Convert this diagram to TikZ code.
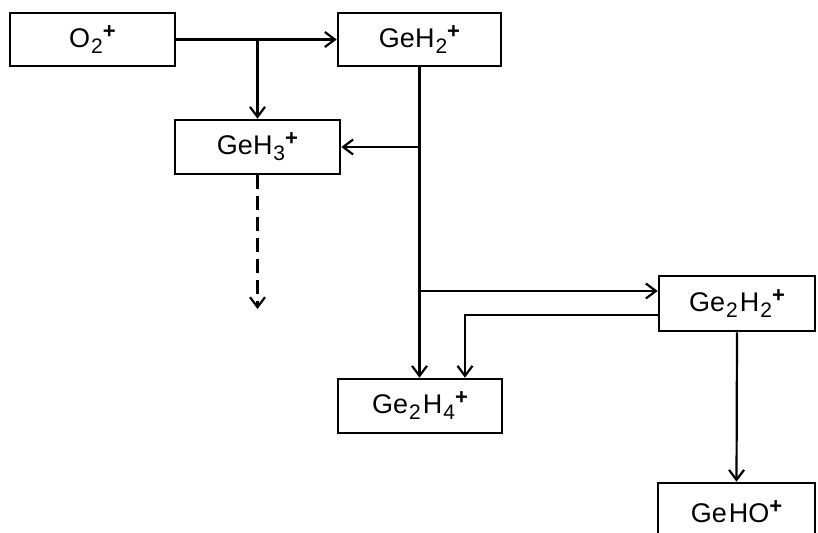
\documentclass[tikz,border=0pt]{standalone}
\usepackage{fontspec}
\setmainfont{Liberation Sans}
\usetikzlibrary{arrows.meta}
\newcommand{\lsub}[1]{\kern1pt\raisebox{-6pt}{\fontsize{21}{21}\selectfont #1}}
\newcommand{\lsup}[1]{\raisebox{9pt}{\fontsize{22}{22}\selectfont\bfseries #1}}
\begin{document}
\begin{tikzpicture}[x=1pt,y=-1pt,
  box/.style={draw,line width=2.6pt,inner sep=0pt,font=\fontsize{27}{30}\selectfont},
  conn/.style={line width=2.2pt},
  arr/.style={conn,-{Straight Barb[length=10pt,width=15pt,line width=2.2pt]}}]
\useasboundingbox (0,0) rectangle (818,532);
\clip (0,0) rectangle (818,532);
\node[box,minimum width=165pt,minimum height=53pt] (O2) at (92.5,39.5) {O\lsub{2}\lsup{+}};
\node[box,minimum width=163pt,minimum height=53pt] (GeH2) at (419.5,39.5) {GeH\lsub{2}\lsup{+}};
\node[box,minimum width=165pt,minimum height=54pt] (GeH3) at (257.5,147) {GeH\lsub{3}\lsup{+}};
\node[box,minimum width=156pt,minimum height=55pt] (Ge2H2) at (737,303.5) {Ge\lsub{2}\kern2pt H\lsub{2}\lsup{+}};
\node[box,minimum width=164pt,minimum height=54pt] (Ge2H4) at (420,406) {Ge\lsub{2}\kern2pt H\lsub{4}\lsup{+}};
\node[box,minimum width=157pt,minimum height=57pt] (GeHO) at (736.5,511.5) {Ge\kern2pt HO\lsup{+}};
\coordinate (dashend) at (257.5,309);
\coordinate (inGe2H2) at ([yshift=12.5pt]Ge2H2.west);
\coordinate (outGe2H2) at ([yshift=-11.5pt]Ge2H2.west);
\coordinate (inGe2H4) at ([xshift=45pt]Ge2H4.north);
% connectors
\draw[arr] (O2.east) -- (GeH2.west);
\draw[arr] (GeH3.north |- O2.east) -- (GeH3.north);
\draw[arr] (GeH2.south) -- (GeH2.south |- Ge2H4.north);
\draw[arr] (GeH2.south |- GeH3.east) -- (GeH3.east);
\draw[arr] (GeH2.south |- inGe2H2) -- (inGe2H2);
\draw[arr] (outGe2H2) -| (inGe2H4);
\draw[arr,dash pattern=on 14pt off 7pt] (GeH3.south) -- (dashend);
\draw[arr] (Ge2H2.south) -- (GeHO.north);
\end{tikzpicture}
\end{document}
